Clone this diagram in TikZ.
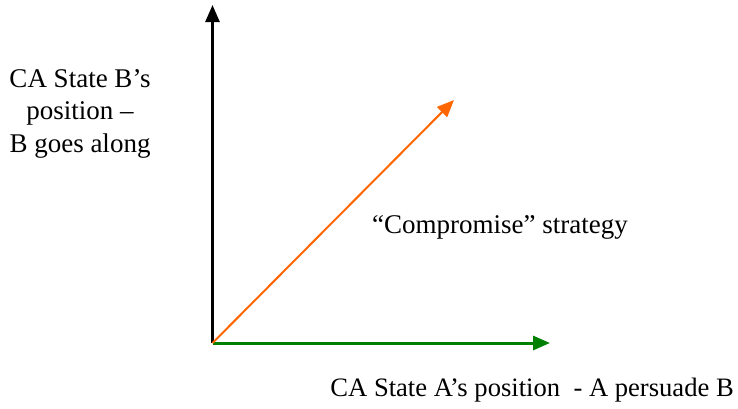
\documentclass[tikz,border=0pt]{standalone}
\usepackage{fontspec}
\setmainfont{Liberation Serif}
\usetikzlibrary{arrows.meta}
\definecolor{axgreen}{RGB}{0,128,0}
\definecolor{axorange}{RGB}{255,102,0}
\begin{document}
\begin{tikzpicture}[x=1pt,y=-1pt,
  tip/.style={-{Triangle[length=17pt,width=14pt]}},
  lbl/.style={font=\fontsize{27}{32.5}\selectfont, inner sep=0pt, align=center}]
\useasboundingbox (0,0) rectangle (738,408);
\coordinate (o) at (212.5,343);
\coordinate (ytip) at (212.5,5);
\coordinate (xtip) at (550,343);
\coordinate (dtip) at (454,100);
\draw[tip, line width=2.6pt, black] (o) -- (ytip);
\draw[tip, line width=3pt, axgreen] (o) -- (xtip);
\draw[tip, line width=2pt, axorange] (o) -- (dtip);
\node[lbl] (ylab) at (80,113.5) {CA State B’s\\position –\\B goes along};
\node[lbl, anchor=west] (dlab) at (372,227) {“Compromise” strategy};
\node[lbl, anchor=east, font=\fontsize{26.6}{32}\selectfont] (xlab) at (734,390) {CA State A’s position~ - A persuade B};
\end{tikzpicture}
\end{document}
